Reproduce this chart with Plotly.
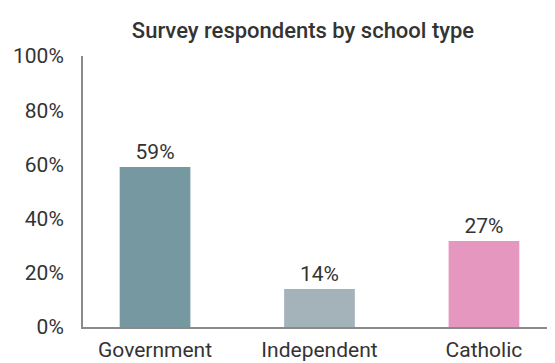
import plotly.graph_objects as go

categories = ["Government", "Independent", "Catholic"]
bar_values = [59, 14, 31.7]
bar_labels = ["59%", "14%", "27%"]
bar_colors = ["#7698a0", "#a4b3ba", "#e597c0"]
y_ticks = [0, 20, 40, 60, 80, 100]
y_tick_labels = ["0%", "20%", "40%", "60%", "80%", "100%"]

font_family = "Roboto, DejaVu Sans, sans-serif"
text_color = "#333333"

# The page body adds an 8px margin, so the figure is 8px smaller and offset.
W, H = 547, 355

fig = go.Figure(
    go.Bar(
        x=categories,
        y=bar_values,
        text=bar_labels,
        textposition="outside",
        textfont=dict(size=21, color=text_color, family=font_family),
        marker=dict(color=bar_colors, line=dict(width=0)),
        width=0.43,
        cliponaxis=False,
    )
)

fig.update_layout(
    width=W,
    height=H,
    margin=dict(l=75, r=0, t=48, b=36, autoexpand=False),
    paper_bgcolor="white",
    plot_bgcolor="white",
    showlegend=False,
    title=dict(
        text="Survey respondents by school type",
        x=295 / W,
        xanchor="center",
        y=1 - 22 / H,
        yanchor="middle",
        font=dict(size=22, color=text_color, family=font_family, weight=500),
    ),
    font=dict(family=font_family, color=text_color, size=21),
)

fig.update_xaxes(
    type="category",
    range=[-0.438, 2.432],
    showline=True,
    linecolor="#8a8a8a",
    linewidth=2,
    showgrid=False,
    ticks="",
    tickfont=dict(size=21, color=text_color),
    ticklabelstandoff=3,
    automargin=False,
)
fig.update_yaxes(
    range=[0, 100],
    tickvals=y_ticks,
    ticktext=y_tick_labels,
    showline=True,
    linecolor="#8a8a8a",
    linewidth=2,
    showgrid=False,
    zeroline=False,
    ticks="",
    tickfont=dict(size=21, color=text_color),
    ticklabelstandoff=13,
    automargin=False,
)

fig.write_html("out.html")
